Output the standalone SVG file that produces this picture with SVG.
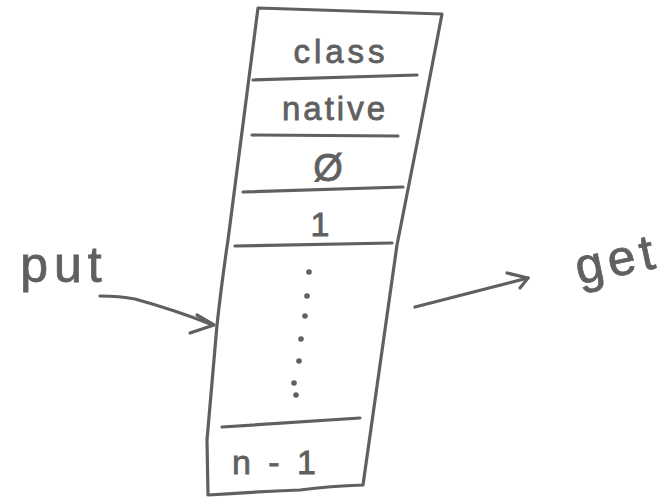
<svg xmlns="http://www.w3.org/2000/svg" width="668" height="500" viewBox="0 0 668 500">
<style>
.s{fill:none;stroke:#606060;stroke-width:3.2;stroke-linecap:round;stroke-linejoin:round}
.t{fill:#606060;stroke:#606060;stroke-width:0.8;font-family:"Liberation Sans","DejaVu Sans",sans-serif;text-anchor:middle}
.d{fill:#606060}
</style>
<rect width="668" height="500" fill="#fff"/>
<g id="array">
<path class="s" d="M258,8 L442,14 Q420,130 397,245 L363,485 Q330,486 300,490 Q250,492 208,495 L207,440 Q212,380 217,325 Q222,280 228,240 Z"/>
<path class="s" d="M253,80 L417,75"/>
<path class="s" d="M252,135 L398,136"/>
<path class="s" d="M243,192 L403,187"/>
<path class="s" d="M235,246 L392,243"/>
<path class="s" d="M222,427 L360,418"/>
</g>
<g id="cell-class"><text class="t" x="341" y="63" font-size="33" letter-spacing="4">class</text></g>
<g id="cell-native"><text class="t" x="335" y="120" font-size="33" letter-spacing="3">native</text></g>
<g id="cell-zero"><text class="t" x="328" y="181" font-size="38">Ø</text></g>
<g id="cell-one"><text class="t" x="320" y="236" font-size="34">1</text></g>
<g id="cell-dots">
<circle class="d" cx="309" cy="272" r="2.8"/>
<circle class="d" cx="307" cy="296" r="2.8"/>
<circle class="d" cx="305" cy="316" r="2.8"/>
<circle class="d" cx="301" cy="339" r="2.8"/>
<circle class="d" cx="299" cy="361" r="2.8"/>
<circle class="d" cx="294" cy="383" r="2.8"/>
<circle class="d" cx="296" cy="395" r="2.8"/>
</g>
<g id="cell-last"><text class="t" x="276" y="474" font-size="34" letter-spacing="4">n - 1</text></g>
<g id="put"><text class="t" x="64" y="282" font-size="50" letter-spacing="6">put</text></g>
<g id="get"><text class="t" x="617" y="276" font-size="50" letter-spacing="5" transform="rotate(-12 617 260)">get</text></g>
<g id="connectors">
<path class="s" d="M100,296 Q120,296 135,299 Q175,310 213,325"/>
<path class="s" d="M197,315 L214,325 L190,333"/>
<path class="s" d="M415,307 L528,278"/>
<path class="s" d="M507,273 L528,278 L520,288"/>
</g>
</svg>
